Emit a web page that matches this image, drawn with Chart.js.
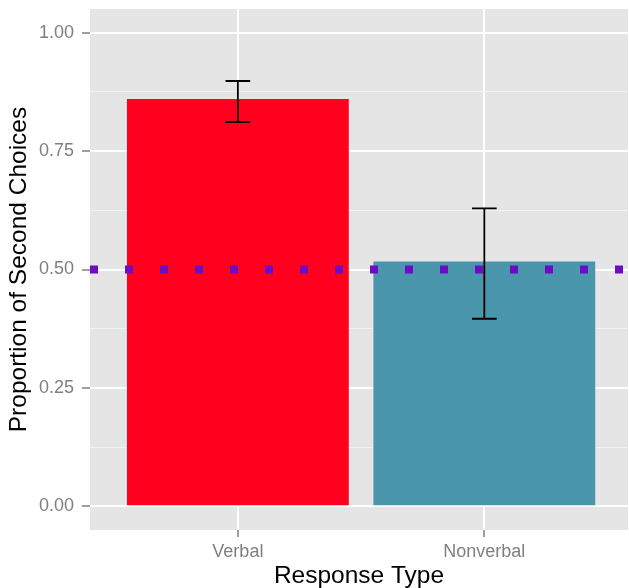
<!DOCTYPE html>
<html>
<head>
<meta charset="utf-8">
<script src="https://cdn.jsdelivr.net/npm/chart.js@4/dist/chart.umd.min.js"></script>
<style>
  html, body { margin: 0; padding: 0; background: #ffffff; }
  #wrap { width: 629px; height: 588px; }
</style>
</head>
<body>
<div id="wrap"><canvas id="chart" width="629" height="588"></canvas></div>
<script>
// --- data ---
const categories = ['Verbal', 'Nonverbal'];
const proportions = [0.86, 0.517];
const errLow = [0.811, 0.396];
const errHigh = [0.898, 0.629];
const chanceLevel = 0.5;
const yTicks = [0, 0.25, 0.5, 0.75, 1];
const yMinorTicks = [0.125, 0.375, 0.625, 0.875];

const barColors = ['#FF001E', '#4A96AD'];
const panelColor = '#E5E5E5';
const tickGrey = '#7F7F7F';

// panel background (ggplot grey) drawn before grid lines
const panelBg = {
    id: 'panelBg',
    beforeDraw(chart) {
        const { ctx, chartArea } = chart;
        ctx.save();
        ctx.fillStyle = panelColor;
        ctx.fillRect(chartArea.left, chartArea.top, chartArea.right - chartArea.left, chartArea.bottom - chartArea.top);
        ctx.restore();
    }
};

// error bars + dotted reference line
const extras = {
    id: 'extras',
    afterDatasetsDraw(chart) {
        const { ctx, chartArea } = chart;
        const xs = chart.scales.x, ys = chart.scales.y;
        ctx.save();

        // error bars
        ctx.strokeStyle = '#000000';
        ctx.lineWidth = 1.8;
        categories.forEach((c, i) => {
            const cx = xs.getPixelForValue(i + 1);
            const half = (xs.getPixelForValue(i + 1.05) - cx);
            const yLo = ys.getPixelForValue(errLow[i]);
            const yHi = ys.getPixelForValue(errHigh[i]);
            ctx.beginPath();
            ctx.moveTo(cx, yLo); ctx.lineTo(cx, yHi);
            ctx.moveTo(cx - half, yHi); ctx.lineTo(cx + half, yHi);
            ctx.moveTo(cx - half, yLo); ctx.lineTo(cx + half, yLo);
            ctx.stroke();
        });

        // chance line (dotted, square dots)
        const y = ys.getPixelForValue(chanceLevel);
        ctx.strokeStyle = '#6C0CC4';
        ctx.lineWidth = 8;
        ctx.lineCap = 'butt';
        ctx.setLineDash([8, 27]);
        ctx.lineDashOffset = 0;
        ctx.beginPath();
        ctx.moveTo(chartArea.left, y);
        ctx.lineTo(chartArea.right, y);
        ctx.stroke();
        ctx.restore();
    }
};

const ctx = document.getElementById('chart').getContext('2d');
window.myChart = new Chart(ctx, {
    type: 'bar',
    data: {
        datasets: [{
            data: categories.map((c, i) => ({ x: i + 1, y: proportions[i] })),
            backgroundColor: barColors,
            borderWidth: 0,
            barPercentage: 0.9,
            categoryPercentage: 1
        }]
    },
    options: {
        responsive: false,
        animation: false,
        devicePixelRatio: 1,
        layout: { padding: { top: 9, right: 1, left: 0, bottom: 0 } },
        plugins: {
            legend: { display: false },
            tooltip: { enabled: false }
        },
        scales: {
            x: {
                type: 'linear',
                min: 0.4,
                max: 2.583,   // right side of the panel is cut off in the original
                offset: false,
                afterBuildTicks: (scale) => {
                    scale.ticks = categories.map((c, i) => ({ value: i + 1 }));
                },
                afterFit: (scale) => { scale.height = 58; },
                ticks: {
                    callback: (v) => categories[v - 1],
                    color: tickGrey,
                    font: { family: 'Liberation Sans', size: 18 },
                    padding: 4,
                    maxRotation: 0,
                    autoSkip: false
                },
                grid: {
                    offset: false,
                    color: '#FFFFFF',
                    lineWidth: 2,
                    drawTicks: true,
                    tickLength: 7,
                    tickColor: tickGrey,
                    tickWidth: 1.5
                },
                border: { display: false },
                title: {
                    display: true,
                    text: 'Response Type',
                    color: '#000000',
                    font: { family: 'Liberation Sans', size: 24.5, lineHeight: 1 },
                    padding: { top: 0, bottom: 0 }
                }
            },
            y: {
                type: 'linear',
                min: -0.05,
                max: 1.05,
                afterBuildTicks: (scale) => {
                    const all = yTicks.concat(yMinorTicks).sort((a, b) => a - b);
                    scale.ticks = all.map(v => ({ value: v }));
                },
                afterFit: (scale) => {
                    scale.width = 90;
                    // labels sit inside the expanded range, no extra room needed
                    scale.paddingTop = 0;
                    scale.paddingBottom = 0;
                },
                ticks: {
                    callback: (v) => yTicks.includes(v) ? v.toFixed(2) : '',
                    color: tickGrey,
                    font: { family: 'Liberation Sans', size: 18 },
                    padding: 8,
                    autoSkip: false
                },
                grid: {
                    color: (c) => yTicks.includes(c.tick.value) ? '#FFFFFF' : '#F2F2F2',
                    lineWidth: (c) => yTicks.includes(c.tick.value) ? 2 : 1,
                    drawTicks: true,
                    tickLength: 8,
                    tickColor: (c) => yTicks.includes(c.tick.value) ? tickGrey : 'rgba(0,0,0,0)',
                    tickWidth: 1.5
                },
                border: { display: false },
                title: {
                    display: true,
                    text: 'Proportion of Second Choices',
                    color: '#000000',
                    font: { family: 'Liberation Sans', size: 24.5, lineHeight: 1 },
                    padding: { top: 7, bottom: 0 }
                }
            }
        }
    },
    plugins: [panelBg, extras]
});
</script>
</body>
</html>
